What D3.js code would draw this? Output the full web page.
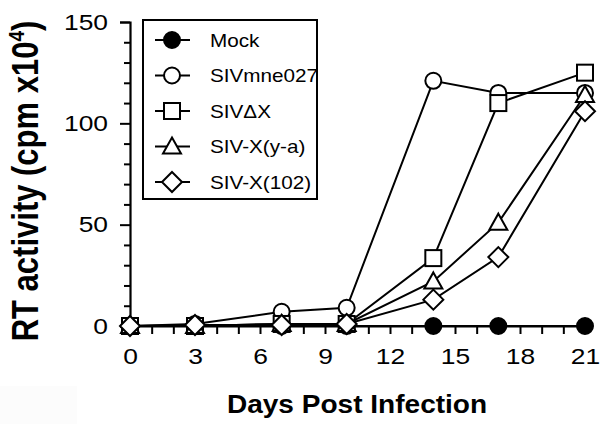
<!DOCTYPE html>
<html><head><meta charset="utf-8">
<script src="https://cdn.jsdelivr.net/npm/d3@7"></script>
<style>body{margin:0;background:#fff}svg{display:block}</style>
</head><body>
<svg id="c" width="600" height="424"></svg>
<script>
const days = [0, 3, 7, 10, 14, 17, 21];
const seriesNames = ["Mock", "SIVmne027", "SIV\u0394X", "SIV-X(y-a)", "SIV-X(102)"];
const mock      = [0, 0, 0, 0, 0, 0, 0];
const sivmne027 = [0, 1, 7, 9, 121, 115, 115];
const sivdx     = [0, 0, 1, 1, 33.5, 110, 125];
const sivxya    = [0, 0, 1, 1, 22, 51, 114];
const sivx102   = [0, 0.5, 0.5, 1, 13, 34, 106];
const xTicks = [0, 3, 6, 9, 12, 15, 18, 21];
const yTicks = [0, 50, 100, 150];

const svg = d3.select("#c");
const x = d3.scaleLinear().domain([0, 21]).range([130, 585]);
const y = d3.scaleLinear().domain([0, 150]).range([326, 22]);
const font = "Liberation Sans, Arial, sans-serif";
const SX = 1.2;

svg.append("rect").attr("x",0).attr("y",386).attr("width",77).attr("height",38).attr("fill","#fcfcfc");

// axes
const yMinor = d3.range(0, 151, 10).filter(v => v % 50 !== 0);
const gy = svg.append("g").attr("transform", "translate(130,0)");
gy.call(d3.axisLeft(y).tickValues(yTicks).tickSize(10).tickPadding(12).tickFormat(d3.format("d")));
gy.selectAll(".tick text").attr("x", -22 / SX).attr("transform", `scale(${SX},1)`);
const gyMinor = svg.append("g").attr("transform", "translate(130,0)");
gyMinor.call(d3.axisLeft(y).tickValues(yMinor).tickSize(6).tickFormat(""));
gyMinor.select(".domain").remove();

const gx = svg.append("g").attr("transform", "translate(0,326)");
gx.call(d3.axisBottom(x).tickValues(xTicks).tickSize(8).tickPadding(14).tickFormat(d3.format("d")));
gx.selectAll(".tick text").attr("transform", `scale(${SX},1)`);
const gxMinor = svg.append("g").attr("transform", "translate(0,326)");
gxMinor.call(d3.axisBottom(x).tickValues(d3.range(0, 22).filter(v => v % 3 !== 0)).tickSize(8).tickFormat(""));
gxMinor.select(".domain").remove();

svg.selectAll(".domain").attr("stroke", "#000").attr("stroke-width", 2.2);
svg.selectAll(".tick line").attr("stroke", "#000").attr("stroke-width", 2);
svg.selectAll(".tick text").attr("font-family", font).attr("font-size", 22).attr("fill", "#000");

// axis titles
svg.append("text").attr("transform", "translate(357,413) scale(1.1,1)").attr("text-anchor", "middle")
  .attr("font-family", font).attr("font-weight", "bold").attr("font-size", 25.5)
  .text("Days Post Infection");
const yl = svg.append("text").attr("transform", `translate(38,181) rotate(-90) scale(1,${SX})`).attr("text-anchor", "middle")
  .attr("font-family", font).attr("font-weight", "bold").attr("font-size", 31);
yl.append("tspan").text("RT activity (cpm x10");
yl.append("tspan").attr("font-size", 19).attr("dy", -12).text("4");
yl.append("tspan").attr("dy", 12).text(")");

// series
const allSeries = [mock, sivmne027, sivdx, sivxya, sivx102];
const shapes = ["circle", "circle", "square", "triangle", "diamond"];
const fills = ["#000", "#fff", "#fff", "#fff", "#fff"];
function drawMarker(g, shape, fill) {
  let p;
  if (shape === "circle") p = g.append("circle").attr("r", 8);
  else if (shape === "square") p = g.append("rect").attr("x", -8).attr("y", -8).attr("width", 16).attr("height", 16);
  else if (shape === "triangle") p = g.append("path").attr("d", "M0,-9L9,7L-9,7Z");
  else p = g.append("path").attr("d", "M0,-10L10,0L0,10L-10,0Z");
  p.attr("fill", fill).attr("stroke", "#000").attr("stroke-width", 2);
}
const line = d3.line().x((d, i) => x(days[i])).y(d => y(d));
allSeries.forEach((s, k) => {
  const g = svg.append("g");
  g.append("path").attr("d", line(s)).attr("fill", "none").attr("stroke", "#000").attr("stroke-width", 2);
  s.forEach((v, i) => {
    const m = g.append("g").attr("transform", `translate(${x(days[i])},${y(v)})`);
    drawMarker(m, shapes[k], fills[k]);
  });
});

// legend
const lg = svg.append("g");
lg.append("rect").attr("x", 143).attr("y", 20).attr("width", 174).attr("height", 179)
  .attr("fill", "#fff").attr("stroke", "#000").attr("stroke-width", 2);
seriesNames.forEach((n, k) => {
  const yy = 40 + k * 35.5;
  lg.append("line").attr("x1", 155).attr("x2", 190).attr("y1", yy).attr("y2", yy).attr("stroke", "#000").attr("stroke-width", 2);
  const m = lg.append("g").attr("transform", `translate(172,${yy})`);
  drawMarker(m, shapes[k], fills[k]);
  lg.append("text").attr("transform", `translate(210,${yy + 6.5}) scale(1.15,1)`)
    .attr("font-family", font).attr("font-size", 18).text(n);
});
</script>
</body></html>
